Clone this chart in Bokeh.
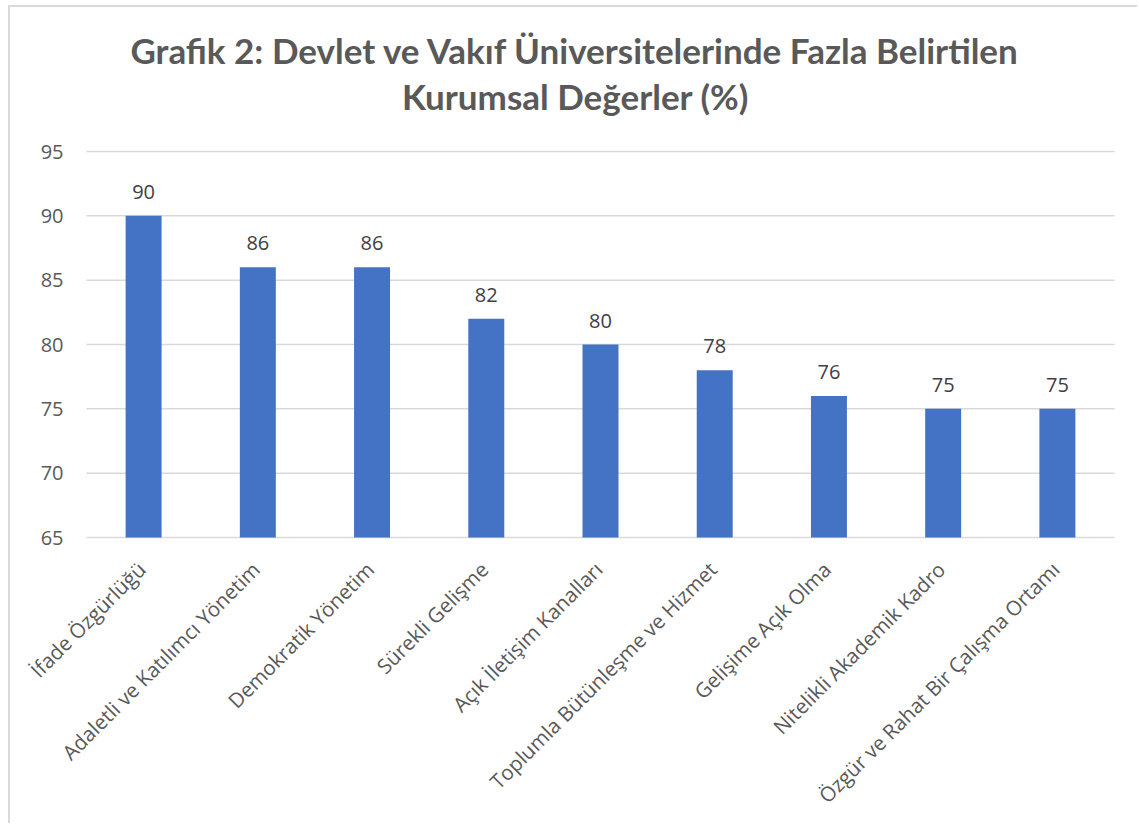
import math
from bokeh.plotting import figure
from bokeh.models import ColumnDataSource, LabelSet, Label, Range1d
from bokeh.core.properties import value
from bokeh.embed import file_html
from bokeh.resources import INLINE

categories = [
    "İfade Özgürlüğü",
    "Adaletli ve Katılımcı Yönetim",
    "Demokratik Yönetim",
    "Sürekli Gelişme",
    "Açık İletişim Kanalları",
    "Toplumla Bütünleşme ve Hizmet",
    "Gelişime Açık Olma",
    "Nitelikli Akademik Kadro",
    "Özgür ve Rahat Bir Çalışma Ortamı",
]
values = [90, 86, 86, 82, 80, 78, 76, 75, 75]
y_ticks = [65, 70, 75, 80, 85, 90, 95]
y_tick_labels = [str(t) for t in y_ticks]

title_lines = ["Grafik 2: Devlet ve Vakıf Üniversitelerinde Fazla Belirtilen",
               "Kurumsal Değerler (%)"]

TITLE_FONT = "Lato"
FONT = "Open Sans"
PLOT_W, PLOT_H = 1129, 818
LEFT_PAD, RIGHT_PAD = 76, 25      # px beside the category band
AXIS_TOP, AXIS_BOTTOM = 144, 288  # px above the 95 line / below the 65 line

n = len(categories)
xs = list(range(n))
px_per_x = (PLOT_W - LEFT_PAD - RIGHT_PAD) / n
x_start = -0.5 - LEFT_PAD / px_per_x
x_end = n - 0.5 + RIGHT_PAD / px_per_x
px_per_y = (PLOT_H - AXIS_TOP - AXIS_BOTTOM) / (y_ticks[-1] - y_ticks[0])
y_start = y_ticks[0] - AXIS_BOTTOM / px_per_y
y_end = y_ticks[-1] + AXIS_TOP / px_per_y

source = ColumnDataSource(dict(
    x=xs,
    cat=categories,
    val=values,
    base=[y_ticks[0]] * n,
    lbl=[str(v) for v in values],
))
grid_source = ColumnDataSource(dict(
    x0=[-0.5] * len(y_ticks),
    x1=[n - 0.5] * len(y_ticks),
    y=y_ticks,
    lbl=y_tick_labels,
))

p = figure(
    x_range=Range1d(x_start, x_end),
    y_range=Range1d(y_start, y_end),
    width=PLOT_W, height=PLOT_H, title=None,
    output_backend="svg", toolbar_location=None,
    min_border_left=0, min_border_right=0, min_border_bottom=0, min_border_top=0,
)
p.styles = {"margin-left": "8px", "margin-top": "5px",
            "border-left": "2px solid #d9d9d9", "border-top": "2px solid #d9d9d9"}

# horizontal gridlines (65 line doubles as the category axis line)
p.segment(x0="x0", x1="x1", y0="y", y1="y", source=grid_source,
          line_color="#d9d9d9", line_width=1.5)

# value axis labels
p.add_layout(LabelSet(x="x0", y="y", text="lbl", source=grid_source,
                      text_align="right", text_baseline="middle", x_offset=-23,
                      text_font=value(FONT), text_font_size="20px", text_color="#595959"))

p.vbar(x="x", top="val", bottom="base", width=0.315, source=source,
       fill_color="#4472C4", line_color=None)

# data labels
p.add_layout(LabelSet(x="x", y="val", text="lbl", source=source,
                      text_align="center", text_baseline="bottom", y_offset=17,
                      text_font=value(FONT), text_font_size="20px", text_color="#404040"))

# category labels, rotated 45 degrees, hanging under each bar
p.add_layout(LabelSet(x="x", y="base", text="cat", source=source, angle=math.pi / 4,
                      text_align="right", text_baseline="middle", x_offset=-2, y_offset=-28,
                      text_font=value(FONT), text_font_size="20.5px", text_color="#595959"))

# two-line centred title
title_y = [PLOT_H - 42, PLOT_H - 88]
for line, ty in zip(title_lines, title_y):
    p.add_layout(Label(x=565, y=ty, x_units="screen", y_units="screen",
                       text=line, text_align="center", text_baseline="middle",
                       text_font=TITLE_FONT, text_font_size="35px", text_font_style="bold",
                       text_color="#595959"))

p.outline_line_color = None
p.grid.visible = False
p.axis.visible = False

open("out.html", "w").write(file_html(p, INLINE))
